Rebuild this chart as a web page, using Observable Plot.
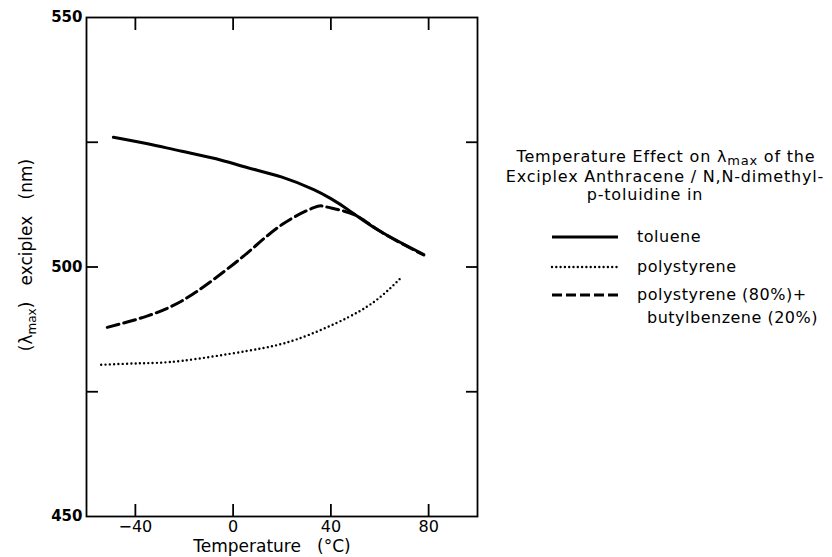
<!DOCTYPE html>
<html><head><meta charset="utf-8">
<script src="https://cdn.jsdelivr.net/npm/d3@7"></script>
<script src="https://cdn.jsdelivr.net/npm/@observablehq/plot@0.6"></script>
<style>body{margin:0;background:#fff} svg{display:block}</style>
</head><body><div id="chart"></div>
<script>
// Series data (temperature °C, λmax nm)
const tolueneT = [-49, -35, -21, -7, 6, 20, 33, 40, 47, 60, 78];
const tolueneL = [526, 524.7, 523.2, 521.7, 519.9, 518, 515.5, 513.7, 511.5, 507.2, 502.5];
const polyT = [-54, -38, -21, 6, 26, 47, 60, 69];
const polyL = [480.4, 480.7, 481.2, 483.2, 485.5, 489.9, 493.9, 498];
const mixT = [-51.5, -35, -21, -8, 6, 20, 33, 38.5, 49.5, 60, 78];
const mixL = [487.9, 490.2, 493.2, 497.5, 502.9, 508.5, 511.9, 512, 510.5, 507.2, 502.4];

const xTicks = [-40, 0, 40, 80];
const yTicks = [475, 500, 525];
const yLabelTicks = [450, 500, 550];
const seriesNames = ["toluene", "polystyrene", "polystyrene (80%)+", "butylbenzene (20%)"];

const rowsOf = (T, L) => T.map((t, i) => ({t, l: L[i]}));
const toluene = rowsOf(tolueneT, tolueneL);
const poly = rowsOf(polyT, polyL);
const mix = rowsOf(mixT, mixL);

const font = "'DejaVu Sans', sans-serif";

const svg = Plot.plot({
  width: 832, height: 557,
  marginLeft: 86, marginRight: 355, marginTop: 17, marginBottom: 41,
  style: {fontFamily: font, fontSize: "15px", color: "#000", background: "#fff"},
  x: {domain: [-60, 100]},
  y: {domain: [450, 550]},
  marks: [
    Plot.frame({stroke: "#000", strokeWidth: 1.8}),
    Plot.axisX({anchor: "bottom", ticks: xTicks, tickSize: -12, tickFormat: () => "", strokeWidth: 1.8, label: null}),
    Plot.axisX({anchor: "top", ticks: xTicks, tickSize: -12, tickFormat: () => "", strokeWidth: 1.8, label: null}),
    Plot.axisY({anchor: "left", ticks: yTicks, tickSize: -12, tickFormat: () => "", strokeWidth: 1.8, label: null}),
    Plot.axisY({anchor: "right", ticks: yTicks, tickSize: -12, tickFormat: () => "", strokeWidth: 1.8, label: null}),
    Plot.axisX({anchor: "bottom", ticks: xTicks, tickSize: 0, tickPadding: 4, fontSize: 16, label: null}),
    Plot.axisY({anchor: "left", ticks: yLabelTicks, tickSize: 0, tickPadding: 4, fontSize: 15, fontWeight: 700, label: null}),
    Plot.line(toluene, {x: "t", y: "l", stroke: "#000", strokeWidth: 3, curve: "natural"}),
    Plot.line(mix, {x: "t", y: "l", stroke: "#000", strokeWidth: 3, strokeDasharray: "12,5", curve: "natural"}),
    Plot.line(poly, {x: "t", y: "l", stroke: "#000", strokeWidth: 2.4, strokeDasharray: "0,4.3", strokeLinecap: "round", curve: "natural"})
  ]
});

const s = d3.select(svg);
const txt = (x, y, anchor, size, ls = 0) => s.append("text").attr("x", x).attr("y", y)
  .attr("text-anchor", anchor).attr("font-family", font).attr("font-size", size)
  .attr("letter-spacing", ls).attr("fill", "#000");

// x-axis title
txt(272, 552, "middle", 17).attr("xml:space", "preserve").text("Temperature   (°C)");

// y-axis title with subscript
const yl = s.append("text").attr("transform", "translate(32,255) rotate(-90)")
  .attr("text-anchor", "middle").attr("font-family", font).attr("font-size", 17)
  .attr("xml:space", "preserve");
yl.append("tspan").text("(λ");
yl.append("tspan").attr("font-size", 12).attr("dy", 4).text("max");
yl.append("tspan").attr("dy", -4).text(")   exciplex   (nm)");

// legend title
const t1 = txt(666, 162, "middle", 16, 0.8);
t1.append("tspan").text("Temperature Effect on λ");
t1.append("tspan").attr("font-size", 13).attr("dy", 3).text("max");
t1.append("tspan").attr("dy", -3).text(" of the");
txt(665, 182, "middle", 16, 0.8).text("Exciplex Anthracene / N,N-dimethyl-");
txt(645, 200, "middle", 16, 0.8).text("p-toluidine in");

// legend entries
const leg = [
  {y: 237, dash: null, w: 3, cap: "butt"},
  {y: 267, dash: "0,4.3", w: 2.4, cap: "round"},
  {y: 295, dash: "10,4", w: 3, cap: "butt"}
];
leg.forEach(d => {
  const ln = s.append("line").attr("x1", 552).attr("x2", 618).attr("y1", d.y).attr("y2", d.y)
    .attr("stroke", "#000").attr("stroke-width", d.w).attr("stroke-linecap", d.cap);
  if (d.dash) ln.attr("stroke-dasharray", d.dash);
});
txt(637, 242, "start", 16, 0.5).text(seriesNames[0]);
txt(637, 272, "start", 16, 0.5).text(seriesNames[1]);
txt(637, 300, "start", 16, 0.5).text(seriesNames[2]);
txt(647, 323, "start", 16, 0.5).text(seriesNames[3]);

document.getElementById("chart").appendChild(svg);
</script>
</body></html>
